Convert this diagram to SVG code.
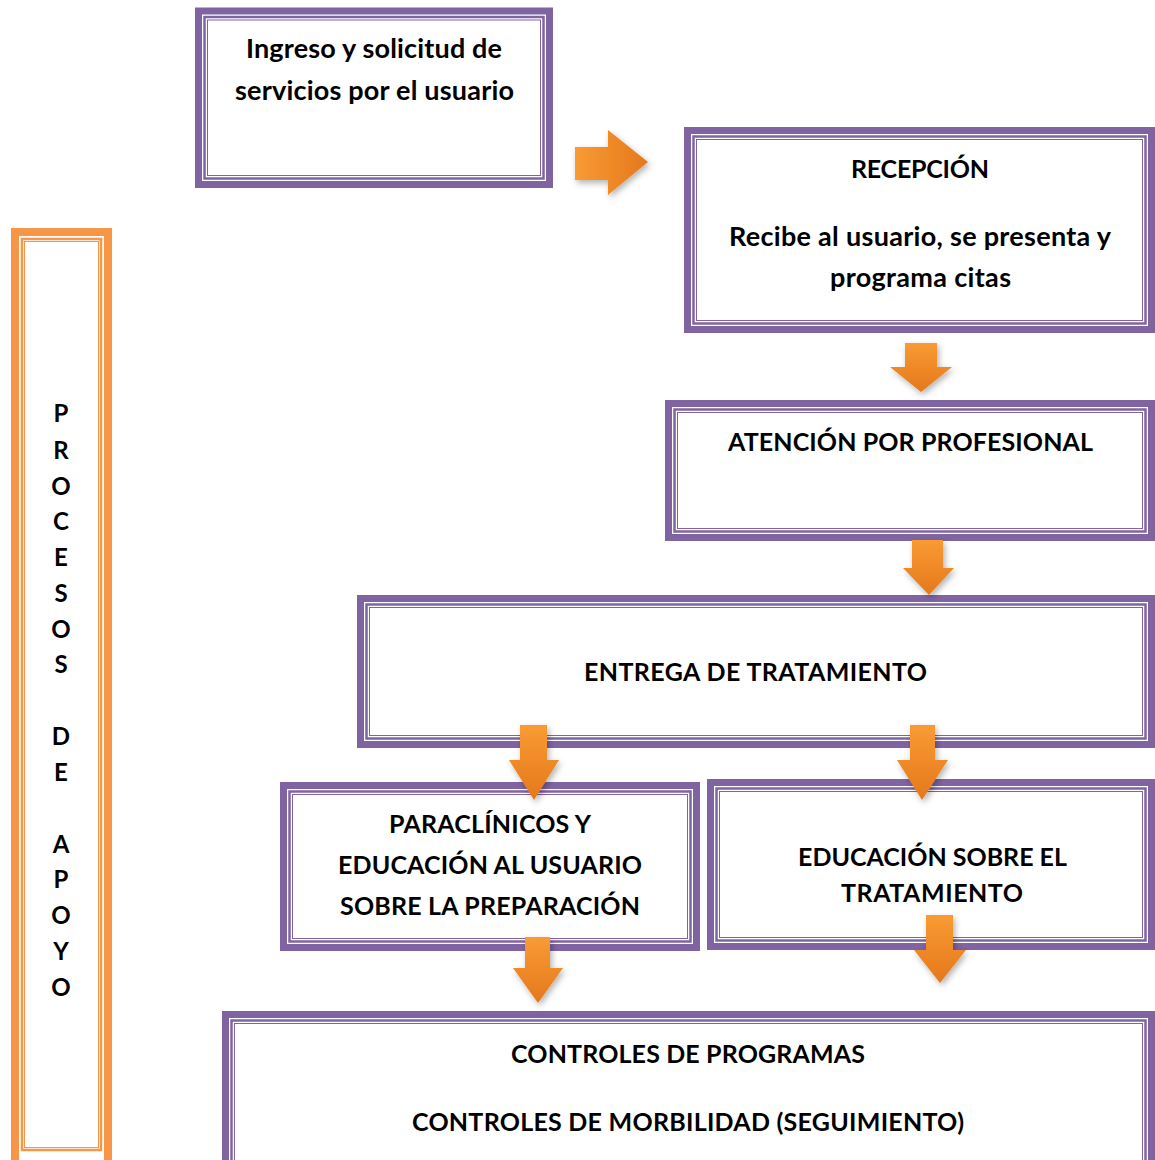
<svg xmlns="http://www.w3.org/2000/svg" width="1155" height="1160" viewBox="0 0 1155 1160">
<style>
.p{fill:none;stroke:#8064A2}
.o{fill:none;stroke:#F79646}
.t{font-family:Lato,"Open Sans","Liberation Sans",sans-serif;font-weight:bold;font-size:25px;fill:#000;text-anchor:middle}
.l{font-size:27px}
.a{fill:url(#og);filter:url(#sh)}
</style>
<defs>
<linearGradient id="og" x1="0" y1="0" x2="0" y2="1">
<stop offset="0" stop-color="#F99B33"/>
<stop offset="1" stop-color="#E4781C"/>
</linearGradient>
<linearGradient id="ogh" x1="0" y1="0" x2="1" y2="0">
<stop offset="0" stop-color="#F99B33"/>
<stop offset="1" stop-color="#E4781C"/>
</linearGradient>
<filter id="sh" x="-30%" y="-30%" width="160%" height="160%">
<feDropShadow dx="2" dy="3" stdDeviation="3" flood-color="#000" flood-opacity="0.3"/>
</filter>
</defs>
<rect width="1155" height="1160" fill="#fff"/>

<g id="apoyo">
<rect class="o" x="15" y="232" width="93" height="932" stroke-width="8"/>
<rect class="o" x="22" y="239" width="79" height="911" stroke-width="2.5"/>
<rect class="o" x="24.5" y="241.5" width="74" height="906" stroke-width="1"/>
<g class="t" style="font-size:24px">
<text x="61" y="422">P</text>
<text x="61" y="459">R</text>
<text x="61" y="495">O</text>
<text x="61" y="530">C</text>
<text x="61" y="566">E</text>
<text x="61" y="602">S</text>
<text x="61" y="638">O</text>
<text x="61" y="673">S</text>
<text x="61" y="745">D</text>
<text x="61" y="781">E</text>
<text x="61" y="853">A</text>
<text x="61" y="888">P</text>
<text x="61" y="924">O</text>
<text x="61" y="960">Y</text>
<text x="61" y="996">O</text>
</g>
</g>

<g id="ingreso">
<rect class="p" x="198.5" y="11" width="351" height="173.5" stroke-width="7"/>
<rect class="p" x="204.5" y="17" width="339" height="161.5" stroke-width="2.5"/>
<rect class="p" x="207.5" y="20" width="333" height="155.5" stroke-width="1"/>
<text class="t l" x="374" y="58" textLength="256">Ingreso y solicitud de</text>
<text class="t l" x="374.5" y="100" textLength="279">servicios por el usuario</text>
</g>

<g id="recepcion">
<rect class="p" x="687.5" y="130.5" width="464" height="199" stroke-width="7"/>
<rect class="p" x="693.5" y="136.5" width="452" height="187" stroke-width="2.5"/>
<rect class="p" x="696.5" y="139.5" width="446" height="181" stroke-width="1"/>
<text class="t" x="920" y="178" textLength="138">RECEPCIÓN</text>
<text class="t l" x="920" y="246" textLength="382">Recibe al usuario, se presenta y</text>
<text class="t l" x="920.5" y="287" textLength="181">programa citas</text>
</g>

<g id="atencion">
<rect class="p" x="668.5" y="403.5" width="483" height="134" stroke-width="7"/>
<rect class="p" x="674.5" y="409.5" width="471" height="122" stroke-width="2.5"/>
<rect class="p" x="677.5" y="412.5" width="465" height="116" stroke-width="1"/>
<text class="t" x="910.5" y="451" textLength="365">ATENCIÓN POR PROFESIONAL</text>
</g>

<g id="entrega">
<rect class="p" x="360.5" y="598.5" width="791" height="146" stroke-width="7"/>
<rect class="p" x="366.5" y="604.5" width="779" height="134" stroke-width="2.5"/>
<rect class="p" x="369.5" y="607.5" width="773" height="128" stroke-width="1"/>
<text class="t" x="755.5" y="681" textLength="343">ENTREGA DE TRATAMIENTO</text>
</g>

<g id="paraclinicos">
<rect class="p" x="283.5" y="785.5" width="413" height="162" stroke-width="7"/>
<rect class="p" x="289.5" y="791.5" width="401" height="150" stroke-width="2.5"/>
<rect class="p" x="292.5" y="794.5" width="395" height="144" stroke-width="1"/>
<text class="t" x="490" y="833" textLength="202">PARACLÍNICOS Y</text>
<text class="t" x="490" y="874" textLength="304">EDUCACIÓN AL USUARIO</text>
<text class="t" x="490" y="915" textLength="300">SOBRE LA PREPARACIÓN</text>
</g>

<g id="educacion">
<rect class="p" x="710.5" y="782.5" width="441" height="164" stroke-width="7"/>
<rect class="p" x="716.5" y="788.5" width="429" height="152" stroke-width="2.5"/>
<rect class="p" x="719.5" y="791.5" width="423" height="146" stroke-width="1"/>
<text class="t" x="932.5" y="866" textLength="269">EDUCACIÓN SOBRE EL</text>
<text class="t" x="932" y="902" textLength="182">TRATAMIENTO</text>
</g>

<g id="controles">
<rect class="p" x="225.5" y="1014.5" width="926" height="180" stroke-width="7"/>
<rect class="p" x="231.5" y="1020.5" width="914" height="180" stroke-width="2.5"/>
<rect class="p" x="234.5" y="1023.5" width="908" height="180" stroke-width="1"/>
<text class="t" x="688" y="1063" textLength="354">CONTROLES DE PROGRAMAS</text>
<text class="t" x="688" y="1131" textLength="552">CONTROLES DE MORBILIDAD (SEGUIMIENTO)</text>
</g>

<g id="connectors">
<path style="fill:url(#ogh);filter:url(#sh)" d="M575,147 H608 V130 L648,162 L608,195 V180 H575 Z"/>
<path class="a" d="M905,343 H937 V367 H952 L921,392 L890,367 H905 Z"/>
<path class="a" d="M912,540 H943 V568 H954 L929,595 L903,568 H912 Z"/>
<path class="a" d="M520,725 H547 V760 H559 L534,800 L509,760 H520 Z"/>
<path class="a" d="M910,725 H935 V760 H948 L922,800 L897,760 H910 Z"/>
<path class="a" d="M525,937 H550 V968 H563 L538,1003 L513,968 H525 Z"/>
<path class="a" d="M926,915 H953 V950 H966 L940,983 L914,950 H926 Z"/>
</g>
</svg>
